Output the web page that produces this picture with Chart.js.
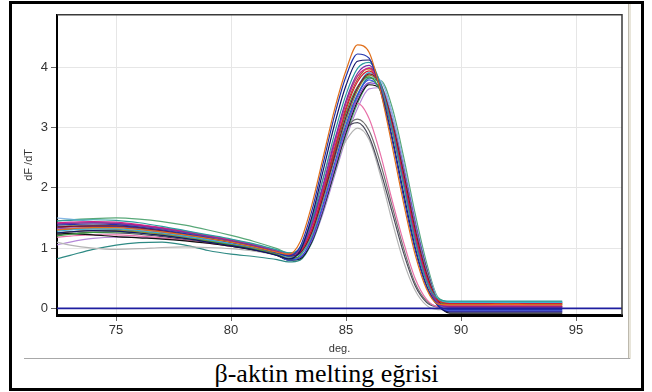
<!DOCTYPE html>
<html><head><meta charset="utf-8">
<script src="https://cdn.jsdelivr.net/npm/chart.js@4"></script>
<style>
html,body{margin:0;padding:0;background:#fff;width:652px;height:392px;overflow:hidden;}
#frame{position:absolute;left:9px;top:1px;width:635px;height:390px;border:3px solid #000;box-sizing:border-box;}
#hline{position:absolute;left:24px;top:358px;width:606px;height:1px;background:#a8a8a8;}
#vline{position:absolute;left:628px;top:4px;width:1px;height:355px;background:#bdb9ad;}
#vline2{position:absolute;left:629px;top:4px;width:2px;height:355px;background:#e8e5da;}
#wrap{position:absolute;left:12px;top:4px;width:616px;height:352px;}
#cap{position:absolute;left:9px;width:635px;top:361px;text-align:center;font:26px/26px "Liberation Serif","Times New Roman",serif;color:#000;}
</style></head>
<body>
<div id="frame"></div>
<div id="vline"></div><div id="vline2"></div>
<div id="hline"></div>
<div id="wrap"><canvas id="c" width="616" height="352"></canvas></div>
<div id="cap">β-aktin melting eğrisi</div>
<script>
// temperatures (deg.)
const temps = [72.4,73,74,75,76,77,78,79,80,81,82,82.5,83,83.5,84,84.5,85,85.5,86,86.5,87,87.5,88,88.5,89,89.5,90,91,92,93,94.4];
const xTicks = [75,80,85,90,95];
const yTicks = [0,1,2,3,4];
const baselineX = [72.43,97];
const baselineY = [0,0];

const sOrange   = [1.30,1.32,1.34,1.34,1.31,1.27,1.22,1.16,1.10,1.02,0.93,0.90,1.10,1.70,2.50,3.30,3.95,4.37,4.25,3.60,2.70,1.75,0.90,0.32,0.07,0.06,0.06,0.06,0.07,0.06,0.06];
const sDarkBlue = [1.38,1.39,1.40,1.39,1.35,1.30,1.24,1.17,1.10,1.02,0.92,0.87,1.02,1.60,2.40,3.20,3.85,4.22,4.15,3.60,2.80,1.85,0.98,0.36,0.05,-0.02,-0.02,-0.02,-0.02,-0.02,-0.02];
const sNavy     = [1.25,1.27,1.29,1.28,1.25,1.21,1.16,1.10,1.04,0.97,0.88,0.82,0.95,1.50,2.28,3.05,3.70,4.10,4.12,3.62,2.85,1.92,1.02,0.38,0.04,-0.06,-0.06,-0.06,-0.06,-0.06,-0.06];
const sTeal     = [1.45,1.46,1.47,1.46,1.42,1.36,1.29,1.22,1.15,1.07,0.97,0.92,1.00,1.45,2.15,2.90,3.55,3.98,4.08,3.72,2.98,2.05,1.12,0.45,0.16,0.12,0.12,0.12,0.12,0.12,0.12];
const sPurple   = [1.40,1.41,1.42,1.41,1.37,1.32,1.26,1.19,1.12,1.04,0.94,0.88,0.96,1.38,2.05,2.78,3.45,3.90,4.03,3.70,2.98,2.08,1.15,0.46,0.08,0.02,0.02,0.02,0.02,0.02,0.02];
const sMagenta  = [1.42,1.43,1.44,1.43,1.39,1.34,1.28,1.21,1.14,1.06,0.96,0.91,0.98,1.35,2.00,2.72,3.40,3.85,3.98,3.68,2.98,2.10,1.18,0.48,0.09,0.04,0.04,0.04,0.04,0.04,0.04];
const sRed      = [1.40,1.41,1.42,1.41,1.38,1.33,1.27,1.20,1.13,1.05,0.95,0.89,0.95,1.30,1.92,2.62,3.30,3.76,3.94,3.70,3.04,2.16,1.24,0.52,0.13,0.08,0.08,0.08,0.08,0.08,0.08];
const sMaroon   = [1.35,1.36,1.37,1.37,1.34,1.29,1.23,1.17,1.10,1.03,0.93,0.87,0.92,1.25,1.85,2.52,3.18,3.66,3.89,3.72,3.10,2.25,1.32,0.58,0.12,0.03,0.03,0.03,0.03,0.03,0.03];
const sCyan     = [1.28,1.30,1.32,1.32,1.29,1.25,1.20,1.14,1.08,1.01,0.92,0.85,0.90,1.22,1.82,2.50,3.15,3.66,3.91,3.74,3.12,2.26,1.34,0.60,0.15,0.10,0.10,0.10,0.10,0.10,0.10];
const sGreen    = [1.20,1.23,1.26,1.27,1.25,1.21,1.16,1.11,1.05,0.98,0.89,0.82,0.88,1.25,1.88,2.58,3.24,3.68,3.84,3.60,2.98,2.12,1.22,0.50,0.11,0.07,0.07,0.07,0.07,0.07,0.07];
const sOlive    = [1.25,1.27,1.29,1.29,1.27,1.23,1.18,1.12,1.06,0.99,0.90,0.85,0.90,1.20,1.80,2.48,3.12,3.62,3.87,3.70,3.10,2.25,1.33,0.60,0.14,0.09,0.09,0.09,0.09,0.09,0.09];
const sBlue     = [1.35,1.36,1.37,1.36,1.32,1.27,1.21,1.14,1.07,0.99,0.89,0.80,0.84,1.15,1.72,2.40,3.05,3.55,3.79,3.62,3.04,2.22,1.30,0.55,0.06,-0.04,-0.04,-0.04,-0.04,-0.04,-0.04];
const sViolet   = [1.32,1.33,1.34,1.34,1.31,1.26,1.20,1.14,1.07,1.00,0.90,0.83,0.85,1.12,1.66,2.32,2.96,3.48,3.74,3.66,3.14,2.33,1.42,0.64,0.10,-0.05,-0.05,-0.05,-0.05,-0.05,-0.05];
const sBlack    = [1.25,1.24,1.22,1.19,1.17,1.15,1.12,1.08,1.03,0.97,0.88,0.80,0.82,1.10,1.64,2.28,2.92,3.44,3.71,3.64,3.12,2.32,1.42,0.66,0.10,-0.08,-0.08,-0.08,-0.08,-0.08,-0.08];
const sPink     = [1.18,1.20,1.22,1.22,1.20,1.17,1.13,1.08,1.03,0.97,0.89,0.84,0.98,1.50,2.15,2.80,3.25,3.40,3.15,2.55,1.80,1.10,0.50,0.15,0.02,0.00,0.00,0.00,0.00,0.00,0.00];
const sGrey     = [1.30,1.31,1.32,1.31,1.28,1.24,1.19,1.13,1.07,1.00,0.91,0.86,0.98,1.42,1.98,2.55,2.98,3.14,2.95,2.40,1.70,1.00,0.42,0.12,0.03,0.02,0.02,0.02,0.02,0.02,0.02];
const sDarkGrey = [1.22,1.24,1.26,1.25,1.23,1.19,1.14,1.09,1.03,0.97,0.89,0.84,0.97,1.45,2.02,2.58,2.98,3.08,2.85,2.28,1.60,0.92,0.38,0.10,0.02,0.00,0.00,0.00,0.00,0.00,0.00];
const sLightGrey= [1.10,1.05,1.00,0.98,0.99,1.01,1.02,1.01,0.99,0.95,0.88,0.80,0.86,1.25,1.80,2.35,2.78,2.99,2.80,2.20,1.45,0.78,0.30,0.05,-0.02,-0.02,-0.02,-0.02,-0.02,-0.02,-0.02];
const sSeaTeal  = [0.82,0.88,0.98,1.05,1.09,1.10,1.05,0.96,0.90,0.86,0.81,0.77,0.80,1.08,1.62,2.30,2.98,3.52,3.82,3.70,3.12,2.28,1.36,0.60,0.14,0.10,0.10,0.10,0.10,0.10,0.10];
const sYellow   = [1.36,1.37,1.38,1.38,1.35,1.31,1.25,1.19,1.12,1.04,0.94,0.89,0.97,1.36,2.02,2.74,3.42,3.86,3.97,3.66,2.96,2.06,1.14,0.45,0.08,0.05,0.05,0.05,0.05,0.05,0.05];
const sLightBlue= [1.50,1.48,1.44,1.40,1.36,1.31,1.25,1.19,1.12,1.04,0.94,0.88,0.90,1.18,1.72,2.38,3.02,3.54,3.84,3.78,3.26,2.42,1.50,0.70,0.15,0.03,0.03,0.03,0.03,0.03,0.03];
const sBrown    = [1.34,1.35,1.36,1.36,1.33,1.28,1.22,1.16,1.09,1.02,0.92,0.86,0.93,1.30,1.95,2.66,3.34,3.80,3.99,3.74,3.06,2.18,1.25,0.52,0.10,0.07,0.07,0.07,0.07,0.07,0.07];
const sSeaGreen = [1.45,1.47,1.49,1.50,1.48,1.44,1.38,1.30,1.21,1.11,0.99,0.92,0.92,1.16,1.65,2.25,2.88,3.40,3.74,3.78,3.34,2.52,1.58,0.76,0.18,0.11,0.11,0.11,0.11,0.11,0.11];
const sLavender = [1.05,1.10,1.16,1.18,1.18,1.16,1.13,1.09,1.04,0.98,0.89,0.82,0.83,1.08,1.58,2.20,2.82,3.32,3.64,3.66,3.22,2.44,1.52,0.72,0.12,-0.03,-0.03,-0.03,-0.03,-0.03,-0.03];

const seriesList = [sOrange,sDarkBlue,sNavy,sTeal,sPurple,sMagenta,sRed,sMaroon,sCyan,sGreen,sOlive,sBlue,sViolet,sBlack,sPink,sGrey,sDarkGrey,sLightGrey,sSeaTeal,sYellow,sLightBlue,sBrown,sSeaGreen,sLavender];
const lineColors = ['#e0701c','#2233aa','#141468','#2a9d9f','#7a2ea8','#d4208c','#d42030','#801028','#3cb4d8','#3c9c3c','#8c8c28','#3050e0','#9050d0','#111111','#e870a8','#707070','#4a4a5a','#b4b4b4','#2e8a84','#c8c030','#88b8e8','#a85a30','#58a878','#b488d8'];

const datasets = [{
  data: baselineX.map((x,i)=>({x:x,y:baselineY[i]})),
  borderColor:'#1e1ea0', borderWidth:1.6, cubicInterpolationMode:'default', tension:0
}];
seriesList.forEach((s,k)=>{
  datasets.push({data: temps.map((t,i)=>({x:t,y:s[i]})), borderColor: lineColors[k], borderWidth:1.2});
});

const frameLines = {id:'frameLines', afterDraw(chart){
  const {ctx, chartArea:a} = chart;
  ctx.save(); ctx.strokeStyle='#3a3a3a'; ctx.lineWidth=1.5;
  ctx.beginPath(); ctx.moveTo(a.left,a.top); ctx.lineTo(a.right,a.top); ctx.lineTo(a.right,a.bottom); ctx.stroke();
  ctx.restore();
}};

const tickFont = {family:'Arial, "Liberation Sans", sans-serif', size:13};
new Chart(document.getElementById('c'), {
  type:'line',
  data:{datasets},
  plugins:[frameLines],
  options:{
    responsive:false, animation:false,
    layout:{padding:{left:0,top:9,right:6,bottom:0}},
    plugins:{legend:{display:false}, tooltip:{enabled:false}},
    elements:{point:{radius:0}, line:{cubicInterpolationMode:'monotone', fill:false}},
    scales:{
      x:{type:'linear', min:72.43, max:97.0,
         afterBuildTicks:s=>{s.ticks = xTicks.map(v=>({value:v}));},
         afterFit:s=>{s.height = 41;},
         grid:{color:'#e6e6e6', tickColor:'#666', tickLength:6},
         border:{color:'#000', width:3},
         ticks:{font:tickFont, color:'#333', padding:2, maxRotation:0},
         title:{display:true, text:'deg.', font:{family:'Arial, "Liberation Sans", sans-serif', size:11}, color:'#333', padding:{top:0,bottom:0}}},
      y:{min:-0.11, max:4.87,
         afterBuildTicks:s=>{s.ticks = yTicks.map(v=>({value:v}));},
         afterFit:s=>{s.width = 45;},
         grid:{color:'#e6e6e6', tickColor:'#666', tickLength:6},
         border:{color:'#000', width:2},
         ticks:{font:tickFont, color:'#333', padding:3},
         title:{display:true, text:'dF /dT', font:{family:'Arial, "Liberation Sans", sans-serif', size:11}, color:'#333', padding:{top:10,bottom:0}}}
    }
  }
});
</script>
</body></html>
